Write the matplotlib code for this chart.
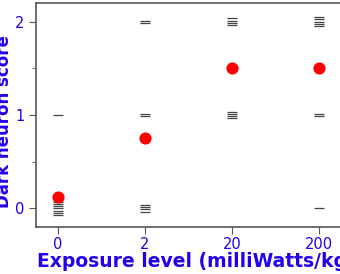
import numpy as np
import matplotlib
matplotlib.use("Agg")
import matplotlib.pyplot as plt
from matplotlib.ticker import MultipleLocator

# exposure groups and individual scores (n=8 per group)
groups = ["0", "2", "20", "200"]
scores = [
    [0, 0, 0, 0, 0, 0, 0, 1],
    [0, 0, 0, 0, 1, 1, 2, 2],
    [1, 1, 1, 1, 2, 2, 2, 2],
    [0, 1, 1, 2, 2, 2, 2, 2],
]
means = [0.125, 0.75, 1.5, 1.5]

blue = "#2200ee"
grey = "#555555"

fig = plt.figure(figsize=(3.4, 2.74), dpi=100)
ax = fig.add_axes([36 / 340, 47 / 274, 305 / 340, 224 / 274])

# stacked dashes, one per animal
step = 0.024
for i, s in enumerate(scores):
    s = np.array(s)
    for v in np.unique(s):
        k = np.sum(s == v)
        offs = (np.arange(k) - (k - 1) / 2) * step
        ax.scatter(np.full(k, i), v - offs, marker="_", s=42, color="#444444",
                   linewidths=0.9, zorder=2)

ax.scatter(range(len(groups)), means, s=60, color="red", zorder=3)

ax.set_xlim(-0.25, 3.25)
ax.set_ylim(-0.2, 2.2)
ax.set_xticks(range(len(groups)))
ax.set_xticklabels(groups)
ax.yaxis.set_major_locator(MultipleLocator(1))
ax.yaxis.set_minor_locator(MultipleLocator(0.5))

for side in ["left", "bottom", "top"]:
    ax.spines[side].set_color(grey)
    ax.spines[side].set_linewidth(1.2)
ax.spines["right"].set_visible(False)

ax.tick_params(axis="both", which="major", length=5, color=grey,
               labelcolor=blue, labelsize=10.5)
ax.tick_params(axis="x", which="major", pad=2)
ax.tick_params(axis="y", which="minor", length=3, color=grey)
ax.tick_params(axis="x", which="minor", length=0)

ax.set_xlabel("Exposure level (milliWatts/kg)", color=blue, fontsize=13.5,
              fontweight="bold", ha="left")
ax.xaxis.set_label_coords(37 / 340, 1 - 252 / 274, transform=fig.transFigure)
ax.set_ylabel("Dark neuron score", color=blue, fontsize=12,
              fontweight="bold")
ax.yaxis.set_label_coords(13 / 340, 1 - 122 / 274, transform=fig.transFigure)

fig.savefig("out.png", dpi=100)
